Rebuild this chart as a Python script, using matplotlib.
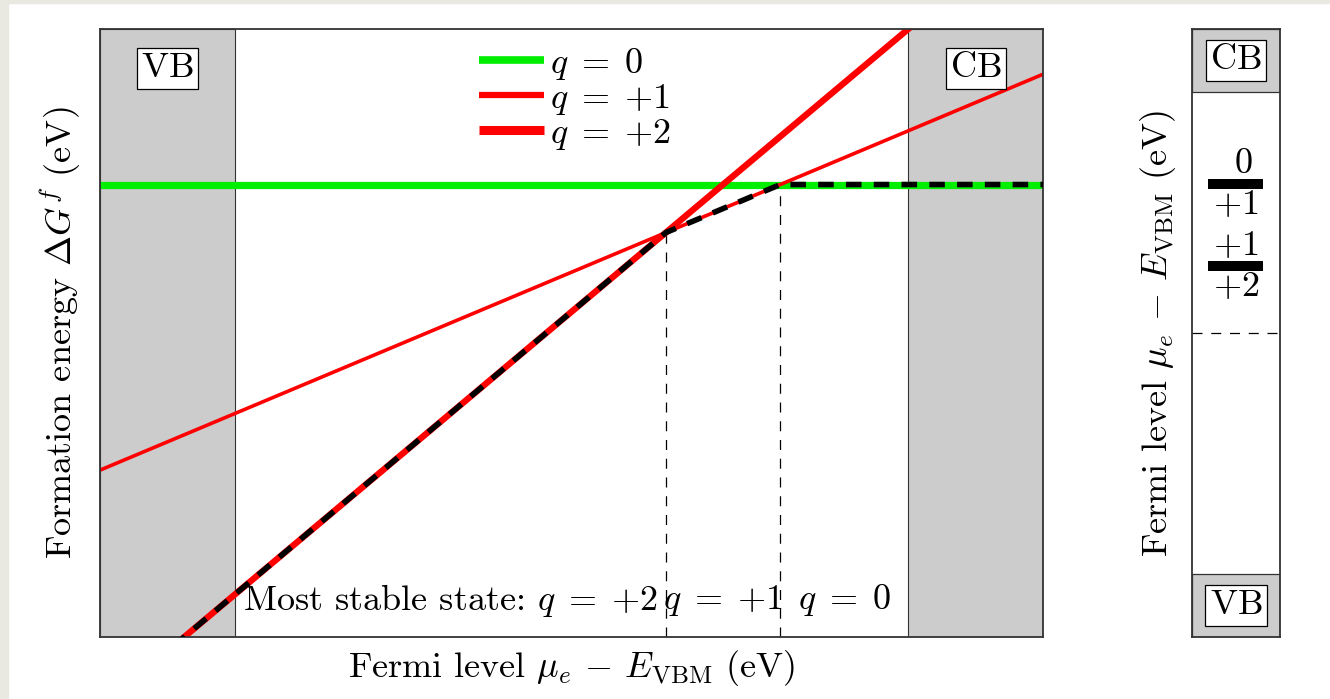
import numpy as np
import matplotlib.pyplot as plt
from matplotlib.patches import Rectangle

plt.rcParams['font.family'] = 'cmr10'
plt.rcParams['mathtext.fontset'] = 'cm'
plt.rcParams['axes.unicode_minus'] = False

FS = 26

# band gap and plotting window (eV)
gap = 5.0
mu_min, mu_max = -1.0, 6.0
G_min, G_max = -2.0, 8.75

# formation energy at mu_e = 0 for each charge state
charges = [0, 1, 2]
labels = [r'$q\;=\;$0', r'$q\;=\;$+1', r'$q\;=\;$+2']
G0 = [6.0, 1.95, -1.25]
colors = ['#00ee00', '#ff0000', '#ff0000']
widths = [5.2, 2.6, 4.6]

# charge transition levels, highest first
levels = [G0[0] - G0[1], G0[1] - G0[2]]
level_names = [('0', '+1'), ('+1', '+2')]

fig = plt.figure(figsize=(13.3, 6.99), dpi=100)
fig.patches.append(Rectangle((0, 0), 8 / 1330, 1, transform=fig.transFigure,
                             color='#e9e9e1', zorder=-5))
fig.patches.append(Rectangle((0, 1 - 3 / 699), 1, 3 / 699, transform=fig.transFigure,
                             color='#e9e9e1', zorder=-5))

ax = fig.add_axes([100 / 1330, 62 / 699, 943 / 1330, 608 / 699])
ax2 = fig.add_axes([1192 / 1330, 62 / 699, 88 / 1330, 608 / 699])

# --- formation energy diagram ---
ax.axvspan(mu_min, 0, facecolor='#cccccc', edgecolor='#333333', lw=0.8, zorder=0)
ax.axvspan(gap, mu_max, facecolor='#cccccc', edgecolor='#333333', lw=0.8, zorder=0)

mu = np.array([mu_min, mu_max])
for q, g, c, w, lab in zip(charges, G0, colors, widths, labels):
    ax.plot(mu, g + q * mu, color=c, lw=w, label=lab, solid_capstyle='butt', zorder=2)

# lowest-energy envelope
env_x = np.array([mu_min, levels[1], levels[0], mu_max])
env_y = np.min([g + q * env_x for q, g in zip(charges, G0)], axis=0)
ax.plot(env_x, env_y, color='black', lw=4.0, dashes=(2.8, 2.2), zorder=3)

for e in levels:
    top = min(g + q * e for q, g in zip(charges, G0))
    ax.plot([e, e], [G_min, top], color='black', lw=0.9, dashes=(8, 7), zorder=1)

bbox = dict(boxstyle='square,pad=0.12', fc='white', ec='black', lw=0.9)
ax.text(mu_min / 2, 8.05, r'$\mathrm{VB}$', fontsize=FS, ha='center', va='center', bbox=bbox)
ax.text(gap + (mu_max - gap) / 2, 8.05, r'$\mathrm{CB}$', fontsize=FS, ha='center', va='center', bbox=bbox)

ax.text(levels[1] / 2, -1.35, r'Most stable state: $q\;=\;$+2', fontsize=FS, ha='center', va='center')
ax.text((levels[0] + levels[1]) / 2, -1.35, r'$q\;=\;$+1', fontsize=FS, ha='center', va='center')
ax.text((gap + levels[0]) / 2, -1.35, r'$q\;=\;$0', fontsize=FS, ha='center', va='center')

leg = ax.legend(loc='upper left', bbox_to_anchor=(0.402, 0.972), frameon=False, fontsize=FS,
                handlelength=1.8, handletextpad=0.15, labelspacing=0.0,
                borderpad=0, borderaxespad=0)
for h, w in zip(leg.legend_handles, [5.5, 4.5, 6.5]):
    h.set_linewidth(w)

ax.set_xlim(mu_min, mu_max)
ax.set_ylim(G_min, G_max)
ax.set_xticks([])
ax.set_yticks([])
ax.set_xlabel(r'Fermi level $\mu_e$ $-$ $E_{\rm VBM}$ (eV)', fontsize=FS, labelpad=8)
ax.set_ylabel(r'Formation energy $\Delta G^f$ (eV)', fontsize=FS, labelpad=12)

# --- level diagram ---
band = 0.655
ax2.axhspan(-band, 0, facecolor='#cccccc', edgecolor='#333333', lw=0.9, zorder=0)
ax2.axhspan(gap, gap + band, facecolor='#cccccc', edgecolor='#333333', lw=0.9, zorder=0)
ax2.axhline(gap / 2, color='black', lw=0.9, dashes=(8, 7))
for e, (upper, lower) in zip(levels, level_names):
    ax2.plot([0.18, 0.81], [e, e], color='black', lw=7.2, solid_capstyle='butt')
    ax2.text(0.58 if upper == '0' else 0.5, e + 0.2, '$' + upper + '$', fontsize=FS,
             ha='center', va='center')
    ax2.text(0.5, e - 0.22, '$' + lower + '$', fontsize=FS, ha='center', va='center')
ax2.text(0.5, gap + band / 2, r'$\mathrm{CB}$', fontsize=FS, ha='center', va='center', bbox=bbox)
ax2.text(0.5, -band / 2, r'$\mathrm{VB}$', fontsize=FS, ha='center', va='center', bbox=bbox)
ax2.set_xlim(0, 1)
ax2.set_ylim(-band, gap + band)
ax2.set_xticks([])
ax2.set_yticks([])
ax2.set_ylabel(r'Fermi level $\mu_e$ $-$ $E_{\rm VBM}$ (eV)', fontsize=FS, labelpad=10)

for a in (ax, ax2):
    for s in a.spines.values():
        s.set_color('#333333')
        s.set_linewidth(1.3)

fig.savefig('out.png', dpi=100)
